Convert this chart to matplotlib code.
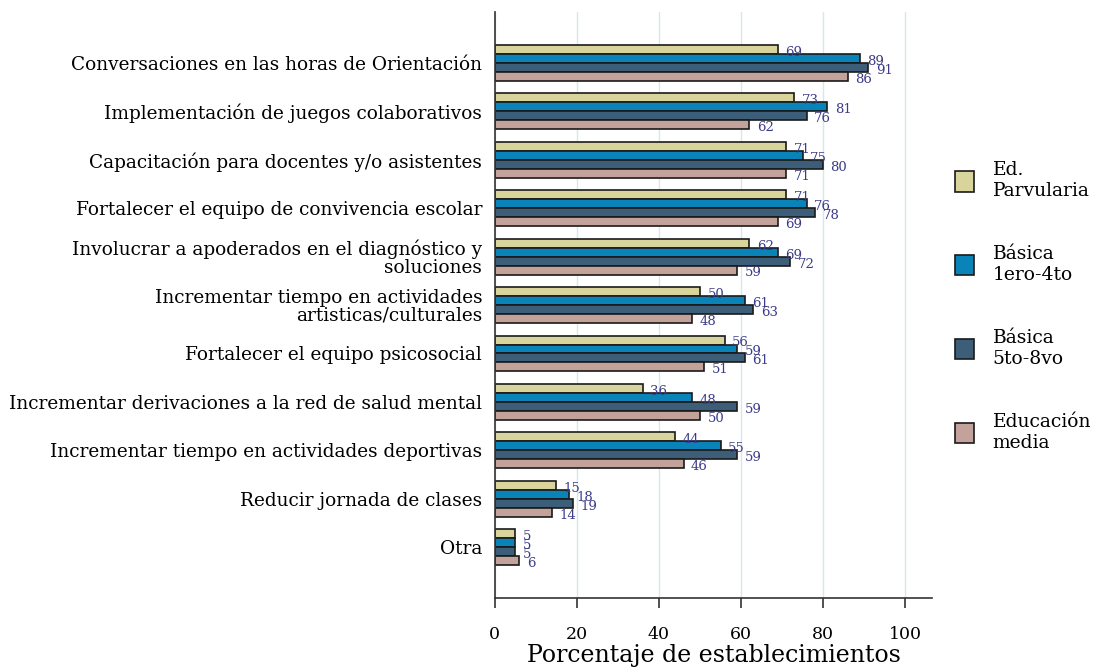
import matplotlib
matplotlib.use('Agg')
import matplotlib.pyplot as plt
import numpy as np

plt.rcParams['font.family'] = ['DejaVu Serif']

categories = [
    'Conversaciones en las horas de Orientación',
    'Implementación de juegos colaborativos',
    'Capacitación para docentes y/o asistentes',
    'Fortalecer el equipo de convivencia escolar',
    'Involucrar a apoderados en el diagnóstico y\nsoluciones',
    'Incrementar tiempo en actividades\nartisticas/culturales',
    'Fortalecer el equipo psicosocial',
    'Incrementar derivaciones a la red de salud mental',
    'Incrementar tiempo en actividades deportivas',
    'Reducir jornada de clases',
    'Otra',
]
parvularia = [69, 73, 71, 71, 62, 50, 56, 36, 44, 15, 5]
basica_1_4 = [89, 81, 75, 76, 69, 61, 59, 48, 55, 18, 5]
basica_5_8 = [91, 76, 80, 78, 72, 63, 61, 59, 59, 19, 5]
media = [86, 62, 71, 69, 59, 48, 51, 50, 46, 14, 6]

series = [parvularia, basica_1_4, basica_5_8, media]
names = ['Ed.\nParvularia', 'Básica\n1ero-4to', 'Básica\n5to-8vo', 'Educación\nmedia']
colors = ['#d8d49c', '#0a84b8', '#3c5e78', '#c4a29c']

fig = plt.figure(figsize=(10.97, 6.69), dpi=100)
ax = fig.add_axes([0.451, 0.106, 0.399, 0.876])

y = np.arange(len(categories))
h = 0.185
handles = []
for j, (vals, c, name) in enumerate(zip(series, colors, names)):
    pos = y + (j - 1.5) * h
    b = ax.barh(pos, vals, height=h, color=c, edgecolor='#1a1a1a', linewidth=1.2, label=name)
    handles.append(b)
    for p, v in zip(pos, vals):
        ax.text(v + 1.8, p + 0.06, str(v), va='center', ha='left', fontsize=9.5, color='#3b3b88')

ax.set_ylim(len(categories) - 1 + 1.05, -1.05)
ax.set_xlim(0, 106.6)
ax.set_yticks(y)
ax.set_yticklabels(categories, fontsize=13.3, linespacing=0.95)
ax.tick_params(axis='y', length=0, pad=9)
ax.set_xticks([0, 20, 40, 60, 80, 100])
ax.tick_params(axis='x', labelsize=12.5, length=7, width=1.2, color='#333333', pad=13)
ax.xaxis.grid(True, color='#d8e7ee', linewidth=1)
ax.set_axisbelow(True)
for s in ['top', 'right']:
    ax.spines[s].set_visible(False)
for s in ['left', 'bottom']:
    ax.spines[s].set_color('#333333')
    ax.spines[s].set_linewidth(1.2)
ax.set_xlabel('Porcentaje de establecimientos', fontsize=17, labelpad=1)

fig.legend(handles=handles, labels=names, loc='center left', bbox_to_anchor=(0.8706, 0.542),
           frameon=False, fontsize=13.5, labelspacing=2.4, handlelength=1.0, handleheight=1.3,
           handletextpad=1.0, borderpad=0, borderaxespad=0)

fig.savefig('out.png', dpi=100)
